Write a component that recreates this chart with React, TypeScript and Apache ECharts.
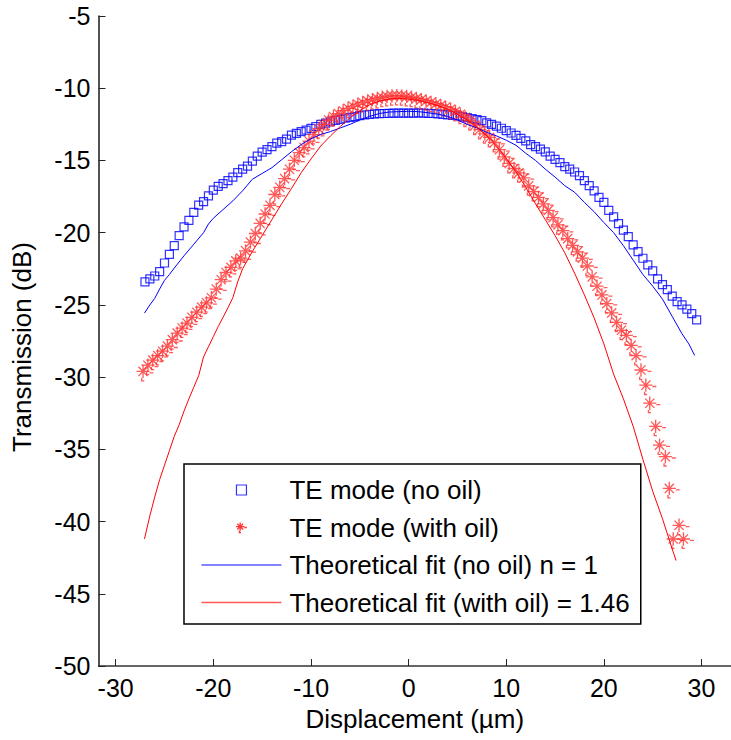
import React, { useEffect, useRef } from "react";
import * as echarts from "echarts";

const xTicks = [-30, -20, -10, 0, 10, 20, 30];

const teNoOil: [number, number][] = [
  [-27.0, -23.4], [-26.5, -23.2], [-26.0, -23.0], [-25.5, -22.7], [-25.0, -22.1],
  [-24.5, -21.5], [-24.0, -20.9], [-23.5, -20.2], [-23.0, -19.6], [-22.5, -19.15],
  [-22.0, -18.6], [-21.5, -18.1], [-21.0, -17.85], [-20.5, -17.45], [-20.0, -17.05],
  [-19.5, -16.8], [-19.0, -16.6], [-18.5, -16.4], [-18.0, -16.15], [-17.5, -15.85],
  [-17.0, -15.6], [-16.5, -15.4], [-16.0, -15.05], [-15.5, -14.7], [-15.0, -14.43],
  [-14.5, -14.25], [-14.0, -14.05], [-13.5, -13.8], [-13.0, -13.7], [-12.5, -13.53],
  [-12.0, -13.25], [-11.5, -13.12], [-11.0, -13.0], [-10.5, -12.9], [-10.0, -12.78],
  [-9.5, -12.65], [-9.0, -12.5], [-8.5, -12.42], [-8.0, -12.32], [-7.5, -12.22],
  [-7.0, -12.15], [-6.5, -12.08], [-6.0, -12.02], [-5.5, -11.97], [-5.0, -11.9],
  [-4.5, -11.85], [-4.0, -11.82], [-3.5, -11.78], [-3.0, -11.76], [-2.5, -11.75],
  [-2.0, -11.74], [-1.5, -11.73], [-1.0, -11.72], [-0.5, -11.72], [0.0, -11.73],
  [0.5, -11.72], [1.0, -11.7], [1.5, -11.72], [2.0, -11.74], [2.5, -11.75],
  [3.0, -11.78], [3.5, -11.82], [4.0, -11.85], [4.5, -11.88], [5.0, -11.92],
  [5.5, -11.97], [6.0, -12.03], [6.5, -12.1], [7.0, -12.18], [7.5, -12.25],
  [8.0, -12.4], [8.5, -12.5], [9.0, -12.62], [9.5, -12.77], [10.0, -12.93],
  [10.5, -13.1], [11.0, -13.27], [11.5, -13.47], [12.0, -13.65], [12.5, -13.9],
  [13.0, -14.05], [13.5, -14.22], [14.0, -14.4], [14.5, -14.7], [15.0, -14.93],
  [15.5, -15.15], [16.0, -15.43], [16.5, -15.6], [17.0, -15.8], [17.5, -16.05],
  [18.0, -16.4], [18.5, -16.75], [19.0, -17.1], [19.5, -17.55], [20.0, -17.9],
  [20.5, -18.45], [21.0, -18.9], [21.5, -19.38], [22.0, -19.82], [22.5, -20.27],
  [23.0, -20.85], [23.5, -21.31], [24.0, -21.77], [24.5, -22.23], [25.0, -22.65],
  [25.5, -23.2], [26.0, -23.6], [26.5, -23.95], [27.0, -24.4], [27.5, -24.78],
  [28.0, -25.0], [28.5, -25.3], [29.0, -25.6], [29.5, -26.04],
];

const teWithOil: [number, number][] = [
  [-27.0, -29.7], [-26.5, -29.27], [-26.0, -28.92], [-25.5, -28.6], [-25.0, -28.3],
  [-24.5, -27.95], [-24.0, -27.5], [-23.5, -27.05], [-23.0, -26.7], [-22.5, -26.35],
  [-22.0, -25.95], [-21.5, -25.6], [-21.0, -25.25], [-20.5, -24.95], [-20.0, -24.6],
  [-19.5, -24.0], [-19.0, -23.35], [-18.5, -22.85], [-18.0, -22.5], [-17.5, -22.05],
  [-17.0, -21.85], [-16.5, -21.35], [-16.0, -20.75], [-15.5, -20.15], [-15.0, -19.45],
  [-14.5, -18.8], [-14.0, -18.2], [-13.5, -17.45], [-13.0, -16.95], [-12.5, -16.35],
  [-12.0, -15.7], [-11.5, -15.08], [-11.0, -14.55], [-10.5, -14.2], [-10.0, -13.75],
  [-9.5, -13.3], [-9.0, -12.9], [-8.5, -12.6], [-8.0, -12.3], [-7.5, -12.05],
  [-7.0, -11.85], [-6.5, -11.65], [-6.0, -11.48], [-5.5, -11.33], [-5.0, -11.2],
  [-4.5, -11.08], [-4.0, -10.97], [-3.5, -10.88], [-3.0, -10.8], [-2.5, -10.72],
  [-2.0, -10.66], [-1.5, -10.62], [-1.0, -10.6], [-0.5, -10.62], [0.0, -10.66],
  [0.5, -10.72], [1.0, -10.8], [1.5, -10.88], [2.0, -10.97], [2.5, -11.07],
  [3.0, -11.17], [3.5, -11.28], [4.0, -11.4], [4.5, -11.55], [5.0, -11.7],
  [5.5, -11.9], [6.0, -12.1], [6.5, -12.35], [7.0, -12.65], [7.5, -12.95],
  [8.0, -13.25], [8.5, -13.5], [9.0, -13.85], [9.5, -14.35], [10.0, -14.85],
  [10.5, -15.3], [11.0, -15.65], [11.5, -15.95], [12.0, -16.3], [12.5, -16.85],
  [13.0, -17.25], [13.5, -17.65], [14.0, -18.1], [14.5, -18.55], [15.0, -19.05],
  [15.5, -19.55], [16.0, -19.95], [16.5, -20.5], [17.0, -20.97], [17.5, -21.42],
  [18.0, -21.85], [18.5, -22.4], [19.0, -23.15], [19.5, -23.8], [20.0, -24.4],
  [20.5, -25.0], [21.0, -25.65], [21.5, -26.3], [22.0, -26.85], [22.5, -27.2],
  [23.0, -27.9], [23.5, -28.6], [24.0, -29.6], [24.5, -30.65], [24.9, -31.9],
  [25.5, -33.5], [25.9, -34.8], [26.5, -35.6], [26.9, -37.8], [27.3, -41.3],
  [27.9, -40.35], [28.35, -41.3],
];

const fitNoOil: [number, number][] = [
  [-27.05, -25.57], [-26.5, -25.0], [-26.0, -24.55], [-25.5, -23.9], [-25.0, -23.3],
  [-24.5, -22.9], [-24.0, -22.45], [-23.0, -21.6], [-22.0, -20.8], [-21.0, -20.0],
  [-20.5, -19.4], [-20.0, -19.0], [-19.0, -18.4], [-18.0, -17.8], [-17.0, -17.1],
  [-16.0, -16.3], [-15.0, -15.9], [-14.0, -15.5], [-13.0, -14.95], [-12.0, -14.4],
  [-11.0, -13.9], [-10.0, -13.5], [-9.0, -13.2], [-8.0, -13.0], [-7.0, -12.75],
  [-6.0, -12.5], [-5.0, -12.2], [-4.0, -11.95], [-3.0, -11.75], [-2.0, -11.65],
  [-1.0, -11.62], [0.0, -11.6], [1.0, -11.62], [2.0, -11.7], [3.0, -11.8],
  [4.0, -11.95], [5.0, -12.2], [6.0, -12.5], [7.0, -12.75], [8.0, -13.05],
  [9.0, -13.3], [10.0, -13.6], [11.0, -13.95], [12.0, -14.5], [13.0, -15.0],
  [14.0, -15.6], [15.0, -16.15], [16.0, -16.75], [17.0, -17.2], [18.0, -17.9],
  [19.0, -18.55], [20.0, -19.3], [21.0, -20.0], [22.0, -20.9], [23.0, -21.9],
  [24.0, -22.9], [25.0, -23.7], [26.0, -24.6], [27.0, -25.8], [28.0, -27.0],
  [28.7, -27.7], [29.3, -28.5],
];

const fitWithOil: [number, number][] = [
  [-27.05, -41.2], [-26.5, -39.6], [-26.0, -38.3], [-25.5, -37.1], [-25.0, -36.1],
  [-24.5, -35.1], [-24.0, -34.1], [-23.5, -33.3], [-23.0, -32.35], [-22.5, -31.5],
  [-22.0, -30.7], [-21.5, -29.9], [-21.0, -28.6], [-20.5, -27.9], [-20.0, -27.2],
  [-19.5, -26.5], [-19.0, -25.85], [-18.5, -25.2], [-18.0, -24.5], [-17.5, -23.4],
  [-17.0, -22.5], [-16.5, -21.9], [-16.0, -21.3], [-15.0, -20.2], [-14.0, -19.1],
  [-13.0, -18.0], [-12.0, -16.95], [-11.0, -15.85], [-10.0, -14.9], [-9.0, -14.0],
  [-8.0, -13.3], [-7.0, -12.65], [-6.0, -12.05], [-5.0, -11.55], [-4.0, -11.15],
  [-3.0, -10.9], [-2.0, -10.75], [-1.0, -10.7], [0.0, -10.75], [1.0, -10.85],
  [2.0, -11.0], [3.0, -11.2], [4.0, -11.45], [5.0, -11.8], [6.0, -12.2],
  [7.0, -12.7], [8.0, -13.3], [9.0, -14.0], [10.0, -14.85], [11.0, -15.8],
  [12.0, -16.85], [13.0, -18.0], [14.0, -19.1], [15.0, -20.2], [16.0, -21.4],
  [17.0, -22.8], [18.0, -24.3], [19.0, -25.9], [20.0, -27.7], [21.0, -29.8],
  [22.0, -31.5], [23.0, -33.4], [24.0, -35.7], [25.0, -37.9], [26.0, -39.8],
  [27.0, -41.9], [27.4, -42.7],
];

const STAR =
  "path://M5 0 L5 10 M0 5 L10 5 M1.5 1.5 L8.5 8.5 M1.5 8.5 L8.5 1.5 M10 6 L13 6 M4 10 L4 12 L6 12";
const SQUARE = "path://M0 0 L10 0 L10 10 L0 10 Z";

const FONT = "'Liberation Sans', Arial, sans-serif";

export default function App() {
  const ref = useRef<HTMLDivElement>(null);

  useEffect(() => {
    if (!ref.current) return;
    const chart = echarts.init(ref.current, null, { renderer: "svg" });
    chart.setOption({
      animation: false,
      backgroundColor: "#ffffff",
      textStyle: { fontFamily: FONT },
      grid: { left: 98.5, right: 0, top: 16, bottom: 74, containLabel: false },
      xAxis: {
        type: "value",
        min: -31.76,
        max: 33.02,
        name: "Displacement (\u00b5m)",
        nameLocation: "middle",
        nameGap: 40,
        nameTextStyle: { fontSize: 26, color: "#000", fontFamily: FONT },
        axisLine: { onZero: false, lineStyle: { color: "#333", width: 1.5 } },
        axisTick: { inside: true, length: 7, customValues: xTicks, lineStyle: { color: "#262626", width: 1 } },
        axisLabel: { customValues: xTicks, margin: 9, fontSize: 25, color: "#000", fontFamily: FONT },
        splitLine: { show: false },
      },
      yAxis: {
        type: "value",
        min: -50,
        max: -5,
        interval: 5,
        name: "Transmission (dB)",
        nameLocation: "middle",
        nameGap: 64,
        nameTextStyle: { fontSize: 26, color: "#000", fontFamily: FONT, padding: [0, 12, 0, 0] },
        axisLine: { onZero: false, lineStyle: { color: "#1a1a1a", width: 1.5 } },
        axisTick: { inside: true, length: 7, lineStyle: { color: "#262626", width: 1 } },
        axisLabel: { margin: 8, fontSize: 25, color: "#000", fontFamily: FONT },
        splitLine: { show: false },
      },
      legend: {
        orient: "vertical",
        left: 184,
        top: 464,
        padding: [13, 11, 8.5, 16.7],
        itemWidth: 80,
        itemHeight: 10,
        itemGap: 11.5,
        borderColor: "#000",
        borderWidth: 1.5,
        backgroundColor: "#fff",
        selectedMode: false,
        textStyle: { fontSize: 26, color: "#000", fontFamily: FONT, padding: [0, 0, 0, 3] },
        data: [
          {
            name: "TE mode (no oil)",
            icon: SQUARE,
            itemStyle: { color: "rgba(0,0,255,0)", borderColor: "#0000ff", borderWidth: 1.2 },
          },
          {
            name: "TE mode (with oil)",
            icon: STAR,
            itemStyle: { color: "rgba(255,0,0,0)", borderColor: "#ff0000", borderWidth: 1.3 },
          },
          {
            name: "Theoretical fit (no oil) n = 1",
            itemStyle: { color: "rgba(0,0,0,0)", borderColor: "rgba(0,0,0,0)", borderWidth: 0 },
            lineStyle: { color: "#5a5aff", width: 1.5 },
          },
          {
            name: "Theoretical fit (with oil) = 1.46",
            itemStyle: { color: "rgba(0,0,0,0)", borderColor: "rgba(0,0,0,0)", borderWidth: 0 },
            lineStyle: { color: "#ff5a5a", width: 1.5 },
          },
        ],
      },
      series: [
        {
          name: "TE mode (no oil)",
          type: "scatter",
          data: teNoOil,
          symbol: "rect",
          symbolSize: 8,
          itemStyle: { color: "rgba(0,0,255,0)", borderColor: "#0000ff", borderWidth: 1.2 },
          z: 2,
        },
        {
          name: "TE mode (with oil)",
          type: "scatter",
          data: teWithOil,
          symbol: STAR,
          symbolSize: [17, 16],
          itemStyle: { color: "rgba(255,0,0,0)", borderColor: "#ff3030", borderWidth: 1.3 },
          z: 3,
        },
        {
          name: "Theoretical fit (no oil) n = 1",
          type: "line",
          data: fitNoOil,
          symbol: "none",
          lineStyle: { color: "#0000ff", width: 1 },
          itemStyle: { color: "#0000ff" },
          z: 4,
        },
        {
          name: "Theoretical fit (with oil) = 1.46",
          type: "line",
          data: fitWithOil,
          symbol: "none",
          lineStyle: { color: "#ff0000", width: 1 },
          itemStyle: { color: "#ff0000" },
          z: 4,
        },
      ],
    });
    return () => chart.dispose();
  }, []);

  return (
    <div
      ref={ref}
      style={{ position: "absolute", left: 0, top: 0, width: 731, height: 740 }}
    />
  );
}
